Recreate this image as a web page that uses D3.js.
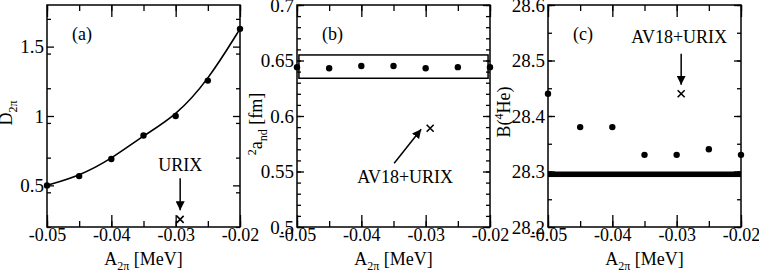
<!DOCTYPE html>
<html>
<head>
<meta charset="utf-8">
<script src="https://cdn.jsdelivr.net/npm/d3@7"></script>
<style>
body { margin: 0; background: #fff; }
text { font-family: "Liberation Serif", "Times New Roman", serif; fill: #000; }
</style>
</head>
<body>
<svg id="chart" width="759" height="273"></svg>
<script>
// A_2pi values shared by all three panels
const xValues = [-0.05, -0.045, -0.04, -0.035, -0.03, -0.025, -0.02];
const xTicks = [-0.05, -0.04, -0.03, -0.02];
const xTickLabels = ["-0.05", "-0.04", "-0.03", "-0.02"];

// panel (a): D_2pi
const dValues = [0.5, 0.567, 0.69, 0.86, 1.0, 1.255, 1.628];
const dTicks = [0.5, 1, 1.5];
const dTickLabels = ["0.5", "1", "1.5"];

// panel (b): 2a_nd
const andValues = [0.644, 0.643, 0.645, 0.645, 0.643, 0.644, 0.644];
const andBand = [0.634, 0.655];
const andTicks = [0.5, 0.55, 0.6, 0.65, 0.7];
const andTickLabels = ["0.5", "0.55", "0.6", "0.65", "0.7"];

// panel (c): B(4He)
const bheValues = [28.44, 28.38, 28.38, 28.33, 28.33, 28.34, 28.33];
const bheExp = [28.29, 28.30];
const bheTicks = [28.2, 28.3, 28.4, 28.5, 28.6];
const bheTickLabels = ["28.2", "28.3", "28.4", "28.5", "28.6"];

// AV18+URIX reference points
const urixX = -0.0293;
const urixD = 0.255;
const urixAnd = 0.589;
const urixBhe = 28.44;

const svg = d3.select("#chart");
const plotTop = 5, plotBottom = 227;

svg.append("defs").append("marker")
	.attr("id", "arrow")
	.attr("viewBox", "0 0 10 10")
	.attr("refX", 10).attr("refY", 5)
	.attr("markerWidth", 9).attr("markerHeight", 9)
	.attr("markerUnits", "userSpaceOnUse")
	.attr("orient", "auto")
	.append("path")
	.attr("d", "M0,0 L10,5 L0,10 z")
	.attr("fill", "#000");

function range(a, b, step) {
	const out = [];
	for (let v = a; v <= b + step / 2; v += step) out.push(+v.toFixed(4));
	return out;
}

function drawPanel(cfg) {
	const g = svg.append("g");
	const x = d3.scaleLinear().domain([-0.05, -0.02]).range([cfg.left, cfg.right]);
	const y = d3.scaleLinear().domain(cfg.yDomain).range([plotBottom, plotTop]);

	const xMinor = range(-0.05, -0.02, 0.005);
	const yMinor = range(cfg.yDomain[0], cfg.yDomain[1], cfg.yMinorStep);

	// minor ticks
	g.append("g").attr("transform", `translate(0,${plotBottom})`)
		.call(d3.axisBottom(x).tickValues(xMinor).tickSize(-6).tickFormat(""));
	g.append("g").attr("transform", `translate(0,${plotTop})`)
		.call(d3.axisTop(x).tickValues(xMinor).tickSize(-6).tickFormat(""));
	g.append("g").attr("transform", `translate(${cfg.left},0)`)
		.call(d3.axisLeft(y).tickValues(yMinor).tickSize(-4).tickFormat(""));
	g.append("g").attr("transform", `translate(${cfg.right},0)`)
		.call(d3.axisRight(y).tickValues(yMinor).tickSize(-4).tickFormat(""));

	// major ticks
	const xa = g.append("g").attr("transform", `translate(0,${plotBottom})`)
		.call(d3.axisBottom(x).tickValues(xTicks).tickSize(-12).tickPadding(1)
			.tickFormat((d, i) => xTickLabels[i]));
	g.append("g").attr("transform", `translate(0,${plotTop})`)
		.call(d3.axisTop(x).tickValues(xTicks).tickSize(-12).tickFormat(""));
	const ya = g.append("g").attr("transform", `translate(${cfg.left},0)`)
		.call(d3.axisLeft(y).tickValues(cfg.yTicks).tickSize(-7).tickPadding(3)
			.tickFormat((d, i) => cfg.yTickLabels[i]));
	g.append("g").attr("transform", `translate(${cfg.right},0)`)
		.call(d3.axisRight(y).tickValues(cfg.yTicks).tickSize(-7).tickFormat(""));

	g.selectAll(".domain").remove();
	g.selectAll(".tick line").attr("stroke", "#000").attr("stroke-width", 1.3);
	g.selectAll(".tick text").attr("fill", "#000");
	xa.selectAll(".tick text").style("font-size", "18px");
	ya.selectAll(".tick text").style("font-size", "19px");

	g.append("rect")
		.attr("x", cfg.left).attr("y", plotTop)
		.attr("width", cfg.right - cfg.left).attr("height", plotBottom - plotTop)
		.attr("fill", "none").attr("stroke", "#000").attr("stroke-width", 1.5);

	// x title
	const xt = g.append("text")
		.attr("x", (cfg.left + cfg.right) / 2).attr("y", 265)
		.attr("text-anchor", "middle").style("font-size", "18px");
	xt.append("tspan").text("A");
	xt.append("tspan").attr("dy", 5).style("font-size", "12px").text("2π");
	xt.append("tspan").attr("dy", -5).text(" [MeV]");

	// y title
	const yt = g.append("text")
		.attr("transform", `translate(${cfg.left - cfg.titleGap},${cfg.titleY}) rotate(-90)`)
		.attr("text-anchor", "middle").style("font-size", "18px");
	cfg.yTitle.forEach(p => {
		const t = yt.append("tspan").text(p.t);
		if (p.dy) t.attr("dy", p.dy);
		if (p.small) t.style("font-size", "12px");
	});

	// panel label
	g.append("text")
		.attr("x", cfg.left + 25).attr("y", 40)
		.style("font-size", "18px").text(cfg.label);

	return { g, x, y };
}

function drawDots(p, values) {
	p.g.selectAll("circle.pt").data(values).join("circle")
		.attr("class", "pt")
		.attr("cx", (d, i) => p.x(xValues[i]))
		.attr("cy", d => p.y(d))
		.attr("r", 3.2)
		.attr("fill", "#000");
}

function drawCross(p, xv, yv) {
	const cx = p.x(xv), cy = p.y(yv), s = 3.5;
	p.g.append("path")
		.attr("d", `M${cx - s},${cy - s}L${cx + s},${cy + s}M${cx - s},${cy + s}L${cx + s},${cy - s}`)
		.attr("stroke", "#000").attr("stroke-width", 1.6);
	return [cx, cy];
}

function drawArrow(p, x1, y1, x2, y2) {
	p.g.append("line")
		.attr("x1", x1).attr("y1", y1).attr("x2", x2).attr("y2", y2)
		.attr("stroke", "#000").attr("stroke-width", 1.5)
		.attr("marker-end", "url(#arrow)");
}

function drawNote(p, x, y, txt) {
	p.g.append("text").attr("x", x).attr("y", y)
		.attr("text-anchor", "middle").style("font-size", "18px").text(txt);
}

// (a)
const pa = drawPanel({
	left: 47, right: 240, yDomain: [0.2, 1.8], yMinorStep: 0.25,
	yTicks: dTicks, yTickLabels: dTickLabels, label: "(a)",
	titleGap: 35, titleY: 113,
	yTitle: [{ t: "D" }, { t: "2π", dy: 5, small: true }]
});
pa.g.append("path")
	.datum(dValues)
	.attr("d", d3.line().x((d, i) => pa.x(xValues[i])).y(d => pa.y(d)).curve(d3.curveBasis))
	.attr("fill", "none").attr("stroke", "#000").attr("stroke-width", 1.6);
drawDots(pa, dValues);
{
	const [cx, cy] = drawCross(pa, urixX, urixD);
	drawArrow(pa, cx, cy - 41, cx, cy - 9);
	drawNote(pa, cx, cy - 48, "URIX");
}

// (b)
const pb = drawPanel({
	left: 297, right: 490, yDomain: [0.5, 0.7], yMinorStep: 0.01,
	yTicks: andTicks, yTickLabels: andTickLabels, label: "(b)",
	titleGap: 35, titleY: 124,
	yTitle: [{ t: "2", dy: -6, small: true }, { t: "a", dy: 6 }, { t: "nd", dy: 5, small: true }, { t: " [fm]", dy: -5 }]
});
pb.g.append("rect")
	.attr("x", pb.x(-0.0497)).attr("y", pb.y(andBand[1]))
	.attr("width", pb.x(-0.0203) - pb.x(-0.0497))
	.attr("height", pb.y(andBand[0]) - pb.y(andBand[1]))
	.attr("fill", "none").attr("stroke", "#000").attr("stroke-width", 1.5);
drawDots(pb, andValues);
{
	const [cx, cy] = drawCross(pb, urixX, urixAnd);
	drawArrow(pb, cx - 36, cy + 35, cx - 9, cy + 1);
	drawNote(pb, cx - 25, cy + 55, "AV18+URIX");
}

// (c)
const pc = drawPanel({
	left: 548, right: 741, yDomain: [28.2, 28.6], yMinorStep: 0.05,
	yTicks: bheTicks, yTickLabels: bheTickLabels, label: "(c)",
	titleGap: 38, titleY: 112,
	yTitle: [{ t: "B(" }, { t: "4", dy: -7, small: true }, { t: "He)", dy: 7 }]
});
pc.g.append("rect")
	.attr("x", pc.x(-0.05)).attr("y", pc.y(bheExp[1]))
	.attr("width", pc.x(-0.02) - pc.x(-0.05))
	.attr("height", pc.y(bheExp[0]) - pc.y(bheExp[1]))
	.attr("fill", "#000");
drawDots(pc, bheValues);
{
	const [cx, cy] = drawCross(pc, urixX, urixBhe);
	drawArrow(pc, cx, cy - 40, cx, cy - 9);
	drawNote(pc, cx - 2, cy - 51, "AV18+URIX");
}
</script>
</body>
</html>
